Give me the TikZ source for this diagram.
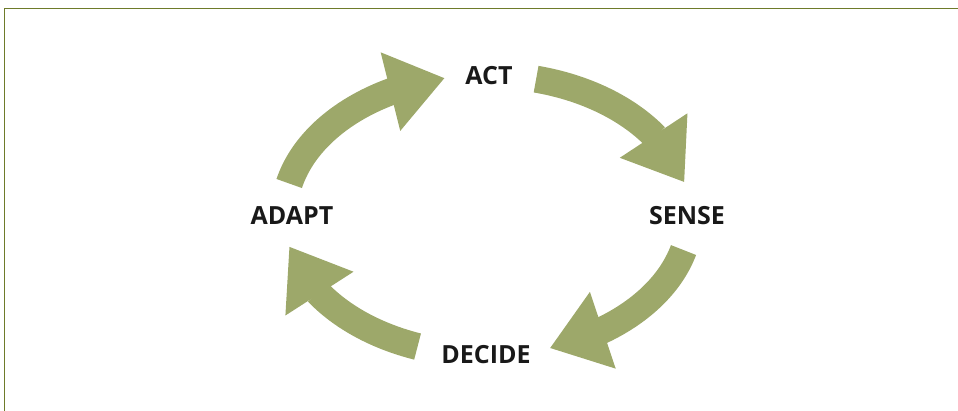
\documentclass[tikz,border=0pt]{standalone}
\usepackage{fontspec}
\setmainfont{Open Sans}
\usetikzlibrary{arrows.meta,bending}
\definecolor{framegreen}{HTML}{6E7B2A}
\definecolor{cyclegreen}{HTML}{9DA86A}
\tikzset{
  label/.style={font=\bfseries\fontsize{25}{29}\selectfont, text=black!90, inner sep=0pt},
  cyclearrow/.style={draw=cyclegreen, line width=27pt,
    -{Triangle[length=56pt,width=77pt,flex]}},
  frame/.style={draw=framegreen, line width=1pt}
}
\begin{document}
\begin{tikzpicture}[x=1pt,y=-1pt]
  \useasboundingbox (0,0) rectangle (958,411);
  % frame: top and left rules
  \draw[frame] (4,412) -- (4,9) -- (959,9);
  % stage labels
  \node[label] (act)    at (489,76)  {ACT};
  \node[label] (sense)  at (687,216) {SENSE};
  \node[label] (decide) at (486,355) {DECIDE};
  \node[label] (adapt)  at (292,216) {ADAPT};
  % cycle arrows along one ellipse, centre (487,215)
  \coordinate (c) at (487,215);
  \draw[cyclearrow] ([shift={(-167:203 and 140)}]c)
    arc[start angle=-167, end angle=-102, x radius=203, y radius=140];
  \draw[cyclearrow] ([shift={(-76:203 and 140)}]c)
    arc[start angle=-76, end angle=-13.5, x radius=203, y radius=140];
  \draw[cyclearrow] ([shift={(14.5:203 and 140)}]c)
    arc[start angle=14.5, end angle=72, x radius=203, y radius=140];
  \draw[cyclearrow] ([shift={(110:203 and 140)}]c)
    arc[start angle=110, end angle=167, x radius=203, y radius=140];
\end{tikzpicture}
\end{document}
